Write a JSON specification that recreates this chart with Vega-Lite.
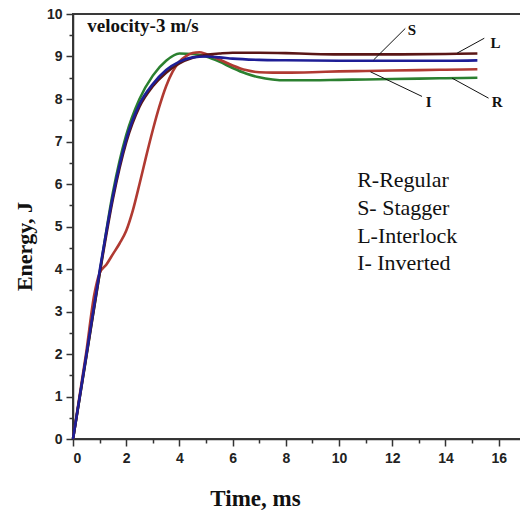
{
  "$schema": "https://vega.github.io/schema/vega-lite/v6.json",
  "width": 452,
  "height": 425,
  "autosize": "none",
  "padding": {"left": 73, "top": 14, "right": 0, "bottom": 77},
  "background": "white",
  "config": {
    "view": {"stroke": "#3a3a3a", "strokeWidth": 2},
    "axis": {
      "labelFont": "Liberation Sans",
      "labelFontWeight": "bold",
      "labelFontSize": 14,
      "labelColor": "#222",
      "domainColor": "#333",
      "domainWidth": 1.5,
      "tickColor": "#333",
      "tickWidth": 1.5,
      "grid": false,
      "titleFont": "Liberation Serif",
      "titleFontWeight": "bold",
      "titleFontSize": 22,
      "titleColor": "#111"
    }
  },
  "datasets": {
    "curves": [
      {"curve": "Regular", "t": 0, "e": 0}, {"curve": "Regular", "t": 0.5, "e": 1.95}, {"curve": "Regular", "t": 1, "e": 3.9}, {"curve": "Regular", "t": 1.5, "e": 5.8}, {"curve": "Regular", "t": 2, "e": 7.15}, {"curve": "Regular", "t": 2.5, "e": 8.0}, {"curve": "Regular", "t": 3, "e": 8.55}, {"curve": "Regular", "t": 3.5, "e": 8.9}, {"curve": "Regular", "t": 4, "e": 9.07}, {"curve": "Regular", "t": 4.5, "e": 9.06}, {"curve": "Regular", "t": 5, "e": 9.0}, {"curve": "Regular", "t": 5.5, "e": 8.88}, {"curve": "Regular", "t": 6, "e": 8.73}, {"curve": "Regular", "t": 6.5, "e": 8.6}, {"curve": "Regular", "t": 7, "e": 8.51}, {"curve": "Regular", "t": 7.5, "e": 8.46}, {"curve": "Regular", "t": 8, "e": 8.44}, {"curve": "Regular", "t": 9, "e": 8.44}, {"curve": "Regular", "t": 10, "e": 8.45}, {"curve": "Regular", "t": 11, "e": 8.46}, {"curve": "Regular", "t": 12, "e": 8.47}, {"curve": "Regular", "t": 13, "e": 8.48}, {"curve": "Regular", "t": 14, "e": 8.49}, {"curve": "Regular", "t": 15.2, "e": 8.5},
      {"curve": "Inverted", "t": 0, "e": 0}, {"curve": "Inverted", "t": 0.5, "e": 2.05}, {"curve": "Inverted", "t": 0.8, "e": 3.4}, {"curve": "Inverted", "t": 1.0, "e": 3.9}, {"curve": "Inverted", "t": 1.25, "e": 4.1}, {"curve": "Inverted", "t": 1.5, "e": 4.35}, {"curve": "Inverted", "t": 1.75, "e": 4.6}, {"curve": "Inverted", "t": 2.0, "e": 4.9}, {"curve": "Inverted", "t": 2.25, "e": 5.38}, {"curve": "Inverted", "t": 2.5, "e": 6.0}, {"curve": "Inverted", "t": 2.75, "e": 6.65}, {"curve": "Inverted", "t": 3.0, "e": 7.27}, {"curve": "Inverted", "t": 3.25, "e": 7.83}, {"curve": "Inverted", "t": 3.5, "e": 8.3}, {"curve": "Inverted", "t": 3.75, "e": 8.65}, {"curve": "Inverted", "t": 4.0, "e": 8.88}, {"curve": "Inverted", "t": 4.25, "e": 9.01}, {"curve": "Inverted", "t": 4.5, "e": 9.08}, {"curve": "Inverted", "t": 4.75, "e": 9.1}, {"curve": "Inverted", "t": 5.0, "e": 9.06}, {"curve": "Inverted", "t": 5.5, "e": 8.93}, {"curve": "Inverted", "t": 6.0, "e": 8.79}, {"curve": "Inverted", "t": 6.5, "e": 8.68}, {"curve": "Inverted", "t": 7.0, "e": 8.63}, {"curve": "Inverted", "t": 7.5, "e": 8.62}, {"curve": "Inverted", "t": 8, "e": 8.62}, {"curve": "Inverted", "t": 9, "e": 8.63}, {"curve": "Inverted", "t": 10, "e": 8.65}, {"curve": "Inverted", "t": 11, "e": 8.66}, {"curve": "Inverted", "t": 12, "e": 8.67}, {"curve": "Inverted", "t": 13, "e": 8.68}, {"curve": "Inverted", "t": 14, "e": 8.69}, {"curve": "Inverted", "t": 15.2, "e": 8.7},
      {"curve": "Interlock", "t": 0, "e": 0}, {"curve": "Interlock", "t": 0.5, "e": 1.93}, {"curve": "Interlock", "t": 1, "e": 3.88}, {"curve": "Interlock", "t": 1.5, "e": 5.65}, {"curve": "Interlock", "t": 2, "e": 6.98}, {"curve": "Interlock", "t": 2.5, "e": 7.82}, {"curve": "Interlock", "t": 3, "e": 8.3}, {"curve": "Interlock", "t": 3.5, "e": 8.62}, {"curve": "Interlock", "t": 4, "e": 8.84}, {"curve": "Interlock", "t": 4.5, "e": 8.97}, {"curve": "Interlock", "t": 5, "e": 9.04}, {"curve": "Interlock", "t": 5.5, "e": 9.07}, {"curve": "Interlock", "t": 6, "e": 9.09}, {"curve": "Interlock", "t": 7, "e": 9.09}, {"curve": "Interlock", "t": 8, "e": 9.08}, {"curve": "Interlock", "t": 9, "e": 9.06}, {"curve": "Interlock", "t": 10, "e": 9.05}, {"curve": "Interlock", "t": 12, "e": 9.05}, {"curve": "Interlock", "t": 14, "e": 9.06}, {"curve": "Interlock", "t": 15.2, "e": 9.07},
      {"curve": "Stagger", "t": 0, "e": 0}, {"curve": "Stagger", "t": 0.5, "e": 1.97}, {"curve": "Stagger", "t": 1, "e": 3.95}, {"curve": "Stagger", "t": 1.5, "e": 5.72}, {"curve": "Stagger", "t": 2, "e": 7.05}, {"curve": "Stagger", "t": 2.5, "e": 7.88}, {"curve": "Stagger", "t": 3, "e": 8.35}, {"curve": "Stagger", "t": 3.5, "e": 8.68}, {"curve": "Stagger", "t": 4, "e": 8.88}, {"curve": "Stagger", "t": 4.5, "e": 8.98}, {"curve": "Stagger", "t": 5, "e": 9.0}, {"curve": "Stagger", "t": 5.5, "e": 8.98}, {"curve": "Stagger", "t": 6, "e": 8.95}, {"curve": "Stagger", "t": 7, "e": 8.92}, {"curve": "Stagger", "t": 8, "e": 8.91}, {"curve": "Stagger", "t": 10, "e": 8.9}, {"curve": "Stagger", "t": 12, "e": 8.9}, {"curve": "Stagger", "t": 14, "e": 8.9}, {"curve": "Stagger", "t": 15.2, "e": 8.91}
    ],
    "leaders": [
      {"k": "S", "t": 11.3, "e": 8.92, "t2": 12.49, "e2": 9.66},
      {"k": "L", "t": 14.44, "e": 9.08, "t2": 15.46, "e2": 9.43},
      {"k": "I", "t": 11.18, "e": 8.64, "t2": 13.12, "e2": 8.06},
      {"k": "R", "t": 14.25, "e": 8.49, "t2": 15.62, "e2": 8.02}
    ],
    "callouts": [
      {"label": "S", "t": 12.74, "e": 9.62},
      {"label": "L", "t": 15.88, "e": 9.31},
      {"label": "I", "t": 13.37, "e": 7.94},
      {"label": "R", "t": 15.94, "e": 7.94}
    ],
    "key": [
      {"label": "R-Regular", "t": 10.68, "e": 5.94},
      {"label": "S- Stagger", "t": 10.68, "e": 5.27},
      {"label": "L-Interlock", "t": 10.68, "e": 4.61},
      {"label": "I- Inverted", "t": 10.68, "e": 3.98}
    ],
    "note": [
      {"label": "velocity-3 m/s", "t": 0.54, "e": 9.58}
    ]
  },
  "layer": [
    {
      "data": {"name": "curves"},
      "mark": {"type": "line", "interpolate": "monotone", "strokeWidth": 2.6},
      "encoding": {
        "x": {"field": "t", "type": "quantitative", "scale": {"domain": [0, 16.99], "nice": false, "zero": false},
          "axis": {"orient": "bottom", "values": [0, 2, 4, 6, 8, 10, 12, 14, 16], "tickSize": 7, "labelPadding": 5, "title": "Time, ms", "titleFontSize": 23, "titleX": 182, "titleY": 66, "titleBaseline": "alphabetic", "titleAnchor": "middle", "titleAlign": "center"}},
        "y": {"field": "e", "type": "quantitative", "scale": {"domain": [0, 10], "nice": false},
          "axis": {"orient": "left", "values": [0, 1, 2, 3, 4, 5, 6, 7, 8, 9, 10], "tickSize": 7, "labelPadding": 4, "title": "Energy, J", "titleAngle": 270, "titleX": -49, "titleY": 232, "titleBaseline": "middle", "titleAlign": "center"}},
        "color": {"field": "curve", "type": "nominal", "legend": null,
          "scale": {"domain": ["Regular", "Inverted", "Interlock", "Stagger"], "range": ["#2b8030", "#b03a32", "#5a1616", "#1e1e96"]}},
        "order": {"field": "t", "type": "quantitative"}
      }
    },
    {
      "data": {"name": "leaders"},
      "mark": {"type": "rule", "color": "#111", "strokeWidth": 1},
      "encoding": {
        "x": {"field": "t", "type": "quantitative",
          "axis": {"orient": "bottom", "values": [1, 3, 5, 7, 9, 11, 13, 15], "tickSize": 4, "labels": false, "domain": false, "title": null}},
        "y": {"field": "e", "type": "quantitative",
          "axis": {"orient": "left", "values": [0.5, 1.5, 2.5, 3.5, 4.5, 5.5, 6.5, 7.5, 8.5, 9.5], "tickSize": 4, "labels": false, "domain": false, "title": null}},
        "x2": {"field": "t2"},
        "y2": {"field": "e2"}
      }
    },
    {
      "data": {"name": "callouts"},
      "mark": {"type": "text", "font": "Liberation Serif", "fontWeight": "bold", "fontSize": 15, "color": "#111", "align": "center", "baseline": "middle"},
      "encoding": {
        "x": {"field": "t", "type": "quantitative", "axis": null},
        "y": {"field": "e", "type": "quantitative", "axis": null},
        "text": {"field": "label"}
      }
    },
    {
      "data": {"name": "key"},
      "mark": {"type": "text", "font": "Liberation Serif", "fontSize": 22, "color": "#111", "align": "left", "baseline": "alphabetic"},
      "encoding": {
        "x": {"field": "t", "type": "quantitative", "axis": null},
        "y": {"field": "e", "type": "quantitative", "axis": null},
        "text": {"field": "label"}
      }
    },
    {
      "data": {"name": "note"},
      "mark": {"type": "text", "font": "Liberation Serif", "fontWeight": "bold", "fontSize": 19, "color": "#111", "align": "left", "baseline": "alphabetic"},
      "encoding": {
        "x": {"field": "t", "type": "quantitative", "axis": null},
        "y": {"field": "e", "type": "quantitative", "axis": null},
        "text": {"field": "label"}
      }
    }
  ],
  "resolve": {"axis": {"x": "independent", "y": "independent"}}
}
